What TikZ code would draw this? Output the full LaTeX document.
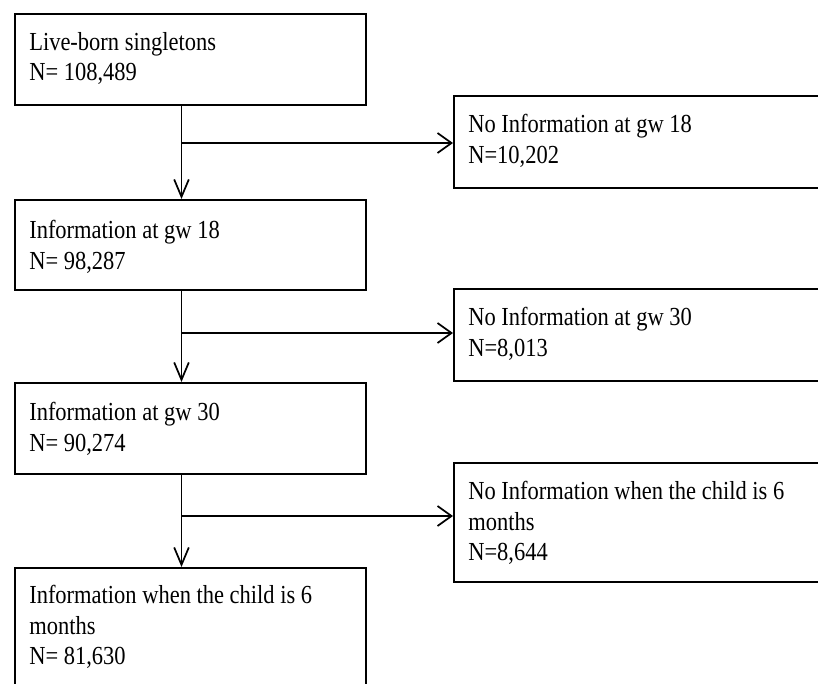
\documentclass[tikz,border=0pt]{standalone}
\usepackage{fontspec}
\setmainfont[FakeStretch=0.865]{Liberation Serif}
\usetikzlibrary{arrows.meta}
\begin{document}
\begin{tikzpicture}[x=0.75pt,y=-0.75pt,
  box/.style={draw=black, line width=1.3pt, rectangle, anchor=north west, inner sep=0pt},
  leftbox/.style={box, minimum width=263.25pt},
  rightbox/.style={box, minimum width=282.75pt},
  txt/.style={anchor=north west, inner sep=0pt, align=left,
    font=\fontsize{19.5pt}{23pt}\selectfont},
  conn/.style={line width=1.3pt, black},
  varr/.style={conn, -{Straight Barb[length=13pt,width=11pt]}},
  harr/.style={conn, -{Straight Barb[length=10.5pt,width=15pt]}}
]
\useasboundingbox (0,0) rectangle (818,683);
\clip (0,0) rectangle (818,683);

% left column boxes
\node[leftbox, minimum height=68.25pt] (b1) at (14,13) {};
\node[leftbox, minimum height=67.5pt]  (b2) at (14,199) {};
\node[leftbox, minimum height=68.25pt] (b3) at (14,382) {};
\node[leftbox, minimum height=97.5pt]  (b4) at (14,567) {};

% right column boxes
\node[rightbox, minimum height=69pt]   (r1) at (453,95) {};
\node[rightbox, minimum height=69pt]   (r2) at (453,288) {};
\node[rightbox, minimum height=89.25pt] (r3) at (453,462) {};

% texts
\node[txt] (t1) at ([shift={(15,19)}]b1.north west) {Live-born singletons\\N= 108,489};
\node[txt] (t2) at ([shift={(15,21)}]b2.north west) {Information at gw 18\\N= 98,287};
\node[txt] (t3) at ([shift={(15,20)}]b3.north west) {Information at gw 30\\N= 90,274};
\node[txt] (t4) at ([shift={(15,18)}]b4.north west) {Information when the child is 6\\months\\N= 81,630};
\node[txt] (s1) at ([shift={(15,19)}]r1.north west) {No Information at gw 18\\N=10,202};
\node[txt] (s2) at ([shift={(15,19)}]r2.north west) {No Information at gw 30\\N=8,013};
\node[txt] (s3) at ([shift={(15,19)}]r3.north west) {No Information when the child is 6\\months\\N=8,644};

% junction points on the vertical trunk
\coordinate (j1) at (181.5,143);
\coordinate (j2) at (181.5,333);
\coordinate (j3) at (181.5,516);

% connectors
\draw[conn] (b1.south -| j1) -- (j1);
\draw[varr] (j1) -- (b2.north -| j1);
\draw[harr] (j1) -- (j1 -| r1.west);

\draw[conn] (b2.south -| j2) -- (j2);
\draw[varr] (j2) -- (b3.north -| j2);
\draw[harr] (j2) -- (j2 -| r2.west);

\draw[conn] (b3.south -| j3) -- (j3);
\draw[varr] (j3) -- (b4.north -| j3);
\draw[harr] (j3) -- (j3 -| r3.west);
\end{tikzpicture}
\end{document}
